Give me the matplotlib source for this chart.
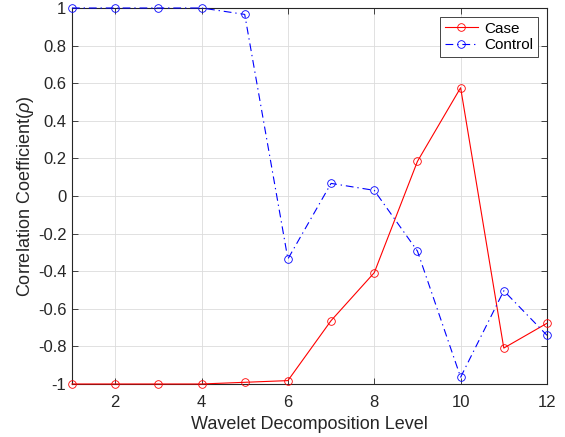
import numpy as np
import matplotlib.pyplot as plt

plt.rcParams['font.family'] = ['Liberation Sans', 'DejaVu Sans']
plt.rcParams['axes.unicode_minus'] = False
plt.rcParams['mathtext.fontset'] = 'custom'
plt.rcParams['mathtext.it'] = 'Liberation Sans:italic'

levels = list(range(1, 13))
case_rho = [-1.0, -1.0, -1.0, -1.0, -0.991, -0.982, -0.663, -0.408, 0.184, 0.576, -0.809, -0.677]
control_rho = [1.0, 1.0, 1.0, 1.0, 0.966, -0.335, 0.067, 0.030, -0.293, -0.964, -0.504, -0.741]

dark = '#262626'

fig = plt.figure(figsize=(5.65, 4.37), dpi=100)
ax = fig.add_axes([0.1274, 0.1213, 0.9681 - 0.1274, 0.9817 - 0.1213])

ax.plot(levels, case_rho, color='red', linestyle='-', linewidth=0.8,
        marker='o', markersize=5.5, markerfacecolor='none', markeredgewidth=0.6,
        label='Case', clip_on=False, zorder=3)
ax.plot(levels, control_rho, color='blue', linestyle=(0, (7, 3.5, 1.2, 3.5)), linewidth=0.8,
        marker='o', markersize=5.5, markerfacecolor='none', markeredgewidth=0.6,
        label='Control', clip_on=False, zorder=3)

ax.set_xlim(1, 12)
ax.set_ylim(-1, 1)
ax.set_xticks([2, 4, 6, 8, 10, 12])
yt = np.round(np.arange(-1, 1.01, 0.2), 1)
ax.set_yticks(yt)
ax.set_yticklabels(['%g' % v if abs(v) > 1e-9 else '0' for v in yt])

ax.grid(True, color='#dcdcdc', linewidth=0.6)
ax.set_axisbelow(True)
ax.tick_params(direction='in', top=True, right=True, length=4, width=0.6,
               colors=dark, labelsize=12, labelcolor=dark, pad=4)
ax.tick_params(axis='x', pad=8)
for s in ax.spines.values():
    s.set_color(dark)
    s.set_linewidth(0.8)

ax.set_xlabel('Wavelet Decomposition Level', fontsize=13, color=dark, labelpad=4)
ax.set_ylabel(r'Correlation Coefficient($\rho$)', fontsize=13, color=dark, labelpad=1)

leg = ax.legend(loc='upper right', fontsize=11, fancybox=False, framealpha=1,
                edgecolor=dark, borderpad=0.3, handlelength=2.2,
                handletextpad=0.4, labelspacing=0.15, borderaxespad=0.6)
leg.get_frame().set_linewidth(0.6)

fig.savefig('out.png', dpi=100)
